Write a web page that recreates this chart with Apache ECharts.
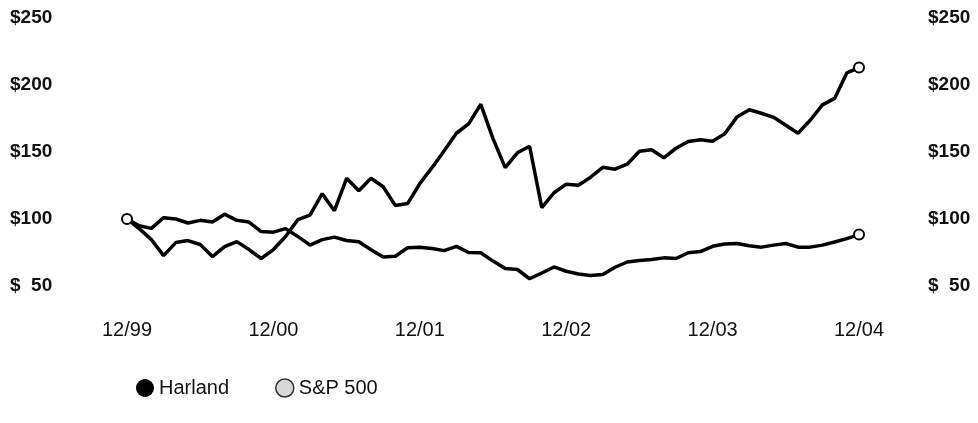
<!DOCTYPE html>
<html>
<head>
<meta charset="utf-8">
<script src="https://cdn.jsdelivr.net/npm/echarts@6/dist/echarts.min.js"></script>
<style>
html,body{margin:0;padding:0;background:#fff;}
#chart{width:978px;height:423px;}
</style>
</head>
<body>
<div id="chart"></div>
<script>
var months = [
 '12/99','1/00','2/00','3/00','4/00','5/00','6/00','7/00','8/00','9/00','10/00','11/00',
 '12/00','1/01','2/01','3/01','4/01','5/01','6/01','7/01','8/01','9/01','10/01','11/01',
 '12/01','1/02','2/02','3/02','4/02','5/02','6/02','7/02','8/02','9/02','10/02','11/02',
 '12/02','1/03','2/03','3/03','4/03','5/03','6/03','7/03','8/03','9/03','10/03','11/03',
 '12/03','1/04','2/04','3/04','4/04','5/04','6/04','7/04','8/04','9/04','10/04','11/04',
 '12/04'
];
var tickLabels = ['12/99','12/00','12/01','12/02','12/03','12/04'];
var harland = [
 100, 92.8, 84.6, 72.7, 82.4, 83.9, 81, 72, 79.4, 83.1, 77.2, 70.5,
 77.2, 86.9, 99.5, 102.9, 118.9, 106.2, 130.4, 121.1, 130.4, 124.1, 110, 111.5,
 126.4, 138.3, 150.9, 164, 171, 185.6, 160, 138.3, 149.4, 154.3, 108.5, 119.6,
 126, 125.2, 131.2, 138.6, 137.2, 140.9, 150.6, 151.7, 145.7, 152.8, 157.8, 159.1,
 158, 163.6, 176.2, 181.5, 178.9, 175.9, 170, 164, 173.7, 185.2, 190, 209,
 213
];
var sp500 = [
 100, 95, 93, 101, 100, 97, 99, 97.7, 103.6, 99, 97.7, 90.6,
 90.2, 92.8, 87, 80.5, 84.6, 86.5, 84, 83, 77, 71.6, 72.2, 78.5,
 79, 78, 76.4, 79.6, 75, 74.8, 68.6, 63, 62.3, 55.4, 59.7, 64.2,
 61, 59, 57.8, 58.6, 64, 67.9, 69, 69.7, 71, 70.5, 74.8, 75.7,
 79.6, 81.3, 81.7, 80, 79, 80.5, 81.7, 79, 79, 80.5, 82.8, 85.4,
 88.4
];
var yTicks = [50, 100, 150, 200, 250];

function endSymbols(arr, showFirst) {
  return arr.map(function (v, i) {
    var isEnd = (i === arr.length - 1) || (showFirst && i === 0);
    return { value: v, symbol: isEnd ? 'circle' : 'none' };
  });
}

var fontFam = '"Liberation Sans", Arial, Helvetica, sans-serif';
function yLabel(v) { return v === 50 ? '$  50' : '$' + v; }

var chart = echarts.init(document.getElementById('chart'), null, {renderer: 'canvas'});
chart.setOption({
  animation: false,
  backgroundColor: '#fff',
  grid: { left: 127, right: 119, top: 18, bottom: 137 },
  legend: {
    left: 131, top: 373,
    itemWidth: 18, itemHeight: 18, itemGap: 46, itemTextGap: 15,
    textStyle: { fontFamily: fontFam, fontSize: 20, color: '#111' },
    data: [
      { name: 'Harland', icon: 'circle', itemStyle: { color: '#000', borderWidth: 0 } },
      { name: 'S&P 500', icon: 'circle', itemStyle: { color: '#d8d8d8', borderColor: '#333', borderWidth: 1.5 } }
    ]
  },
  xAxis: {
    type: 'category', data: months, boundaryGap: false,
    axisLine: { show: false }, axisTick: { show: false }, splitLine: { show: false },
    axisLabel: {
      interval: 0, margin: 34,
      fontFamily: fontFam, fontSize: 20, color: '#111',
      formatter: function (v) { return tickLabels.indexOf(v) >= 0 ? v : ''; }
    }
  },
  yAxis: [
    {
      type: 'value', min: 50, max: 250, interval: 50, position: 'left',
      axisLine: { show: false }, axisTick: { show: false }, splitLine: { show: false },
      axisLabel: { align: 'left', margin: 117, fontFamily: fontFam, fontSize: 19, fontWeight: 'bold', color: '#111', formatter: yLabel }
    },
    {
      type: 'value', min: 50, max: 250, interval: 50, position: 'right',
      axisLine: { show: false }, axisTick: { show: false }, splitLine: { show: false },
      axisLabel: { align: 'left', margin: 69, fontFamily: fontFam, fontSize: 19, fontWeight: 'bold', color: '#111', formatter: yLabel }
    }
  ],
  series: [
    {
      name: 'S&P 500', type: 'line', data: endSymbols(sp500, false),
      symbolSize: 10, showSymbol: true,
      lineStyle: { color: '#000', width: 3.5 },
      itemStyle: { color: '#fff', borderColor: '#000', borderWidth: 2 },
      z: 2
    },
    {
      name: 'Harland', type: 'line', data: endSymbols(harland, true),
      symbolSize: 10, showSymbol: true,
      lineStyle: { color: '#000', width: 3.5 },
      itemStyle: { color: '#fff', borderColor: '#000', borderWidth: 2 },
      z: 3
    }
  ]
});
</script>
</body>
</html>
